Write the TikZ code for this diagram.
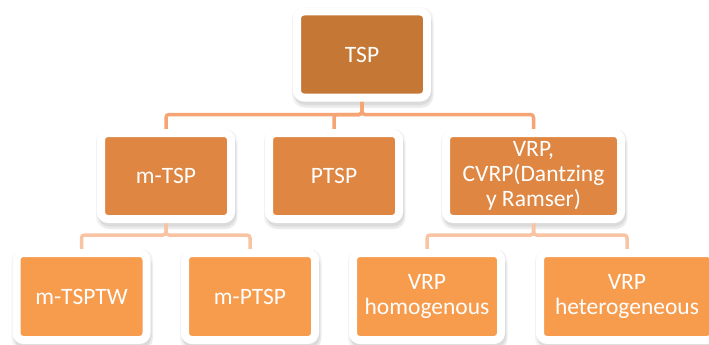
\documentclass[tikz,border=0pt]{standalone}
\usepackage{fontspec}
\setmainfont{Carlito}
\usetikzlibrary{backgrounds}

\definecolor{lvlone}{HTML}{C57835}
\definecolor{lvltwo}{HTML}{DE8642}
\definecolor{lvlthree}{HTML}{F79B4D}
\definecolor{linkone}{HTML}{F5A573}
\definecolor{linktwo}{HTML}{F9C4A3}

\tikzset{
  box/.style={rounded corners=7pt, draw=white, line width=8pt, text=white,
    align=center, inner sep=0pt, minimum width=130pt, minimum height=86pt,
    font=\fontsize{23.5}{25}\selectfont},
  link/.style={line width=3.5pt, rounded corners=3pt},
}

\begin{document}
\begin{tikzpicture}[x=1pt, y=-1pt]
    \useasboundingbox (0,0) rectangle (709,345);

    \node[box, fill=lvlone] (tsp) at (362, 54.5) {TSP};

    \node[box, fill=lvltwo] (mtsp) at (166, 176) {m-TSP};
    \node[box, fill=lvltwo] (ptsp) at (334, 176) {PTSP};
    \node[box, fill=lvltwo, minimum width=175pt] (vrp) at (533.5, 176) {VRP,\\CVRP(Dantzing\\y Ramser)};

    \node[box, fill=lvlthree, minimum height=87pt] (mtsptw) at (81.5, 296.5) {m-TSPTW};
    \node[box, fill=lvlthree, minimum height=87pt] (mptsp) at (250, 296.5) {m-PTSP};
    \node[box, fill=lvlthree, minimum height=87pt, minimum width=148pt] (vrphom) at (427, 296.5) {VRP\\homogenous};
    \node[box, fill=lvlthree, minimum height=87pt, minimum width=174pt] (vrphet) at (627, 296.5) {VRP\\heterogeneous};

    \begin{scope}[on background layer]
        % soft shadows under the white frames
        \foreach \n in {tsp, mtsp, ptsp, vrp, mtsptw, mptsp, vrphom, vrphet} {
            \fill[black!5, rounded corners=12pt] ([xshift=-1pt, yshift=-6pt]\n.south west) rectangle ([xshift=2.5pt, yshift=0pt]\n.north east);
            \fill[black!8, rounded corners=11pt] ([xshift=2pt, yshift=-6pt]\n.south west) rectangle ([xshift=2pt, yshift=-6pt]\n.north east);
            \fill[black!14, rounded corners=11pt] ([xshift=1pt, yshift=-3.5pt]\n.south west) rectangle ([xshift=1pt, yshift=-3.5pt]\n.north east);
        }

        \draw[link, linkone] (tsp.south) -- ++(0,13) -| (mtsp.north);
        \draw[link, linkone] (tsp.south) -- ++(0,13) -| (ptsp.north);
        \draw[link, linkone] (tsp.south) -- ++(0,13) -| (vrp.north);

        \draw[link, linktwo] (mtsp.south) -- ++(0,12) -| (mtsptw.north);
        \draw[link, linktwo] (mtsp.south) -- ++(0,12) -| (mptsp.north);
        \draw[link, linktwo] (vrp.south) -- ++(0,12) -| (vrphom.north);
        \draw[link, linktwo] (vrp.south) -- ++(0,12) -| (vrphet.north);
    \end{scope}
\end{tikzpicture}
\end{document}
